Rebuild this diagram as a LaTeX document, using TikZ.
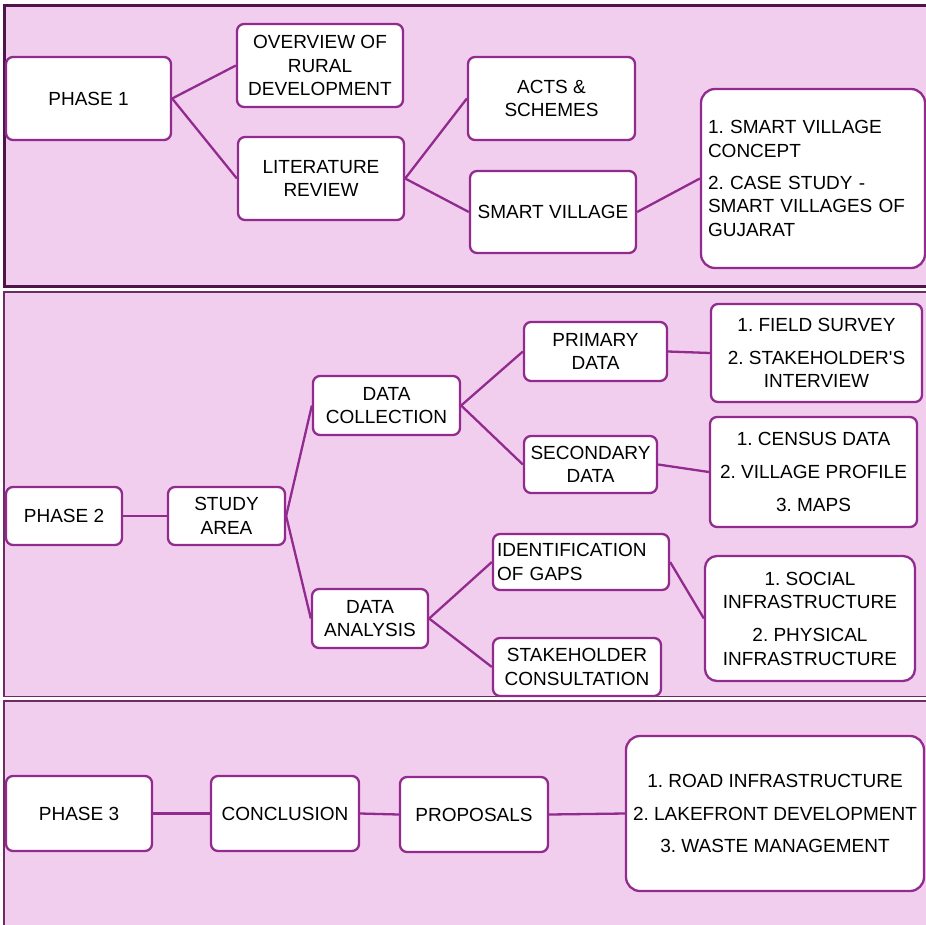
\documentclass[tikz,border=0pt]{standalone}
\usepackage{fontspec}
\setmainfont{Liberation Sans}
\frenchspacing
\definecolor{bgpink}{HTML}{F2CEEE}
\definecolor{nodec}{HTML}{922B8E}
\definecolor{paneldark}{HTML}{4F1548}
\definecolor{panelmid}{HTML}{6B2D63}
\tikzset{
  panelone/.style={draw=paneldark, line width=3pt, fill=bgpink},
  paneltwo/.style={draw=panelmid, line width=1.6pt, fill=bgpink},
  box/.style={draw=nodec, line width=2.3pt, fill=white, rounded corners=7pt,
    align=center, inner sep=0pt, font=\fontsize{19}{23.5}\selectfont\frenchspacing},
  bigbox/.style={box, rounded corners=14pt},
  link/.style={draw=nodec, line width=2.3pt}
}
\begin{document}
\begin{tikzpicture}[x=1pt,y=-1pt]
\useasboundingbox (0,0) rectangle (926,924);
\clip (0,0) rectangle (926,924);
% panels
\path[panelone] (4.5,5.5) rectangle (945,286);
\path[paneltwo] (4,292) rectangle (945,696.5);
\path[paneltwo] (4,701) rectangle (945,945);

% ---------- Phase 1 ----------
\node[box, minimum width=165, minimum height=83] (p1) at (88.5,98.5) {PHASE 1};
\node[box, minimum width=166, minimum height=83] (ov) at (320,65.5) {OVERVIEW OF\\RURAL\\DEVELOPMENT};
\node[box, minimum width=166, minimum height=83] (lit) at (321,178.5) {LITERATURE\\REVIEW};
\node[box, minimum width=167, minimum height=83] (acts) at (551.5,98.5) {ACTS \&\\SCHEMES};
\node[box, minimum width=166, minimum height=82] (sv) at (553,212) {SMART VILLAGE};
\node[bigbox, minimum width=224, minimum height=179, text width=210, align=left] (svd) at (813,178.5)
  {1. SMART VILLAGE\\CONCEPT\\[8.5pt]2. CASE STUDY -\\SMART VILLAGES OF\\GUJARAT};

\draw[link] (p1.east) -- (ov.west);
\draw[link] (p1.east) -- (lit.west);
\draw[link] (lit.east) -- (acts.west);
\draw[link] (lit.east) -- (sv.west);
\draw[link] (sv.east) -- (svd.west);

% ---------- Phase 2 ----------
\node[box, minimum width=116, minimum height=58] (p2) at (64,516) {PHASE 2};
\node[box, minimum width=117, minimum height=58] (sa) at (226.5,516) {STUDY\\AREA};
\node[box, minimum width=147, minimum height=59] (dc) at (386.5,405.5) {DATA\\COLLECTION};
\node[box, minimum width=116, minimum height=59] (da) at (370,618.5) {DATA\\ANALYSIS};
\node[box, minimum width=143, minimum height=59] (pd) at (595.5,351.5) {PRIMARY\\DATA};
\node[box, minimum width=133, minimum height=57] (sd) at (590.5,464.5) {SECONDARY\\DATA};
\node[box, minimum width=211, minimum height=98] (fs) at (816.5,353)
  {1. FIELD SURVEY\\[9.5pt]2. STAKEHOLDER\textquotesingle S\\INTERVIEW};
\node[box, minimum width=207, minimum height=110] (cd) at (813.5,472)
  {1. CENSUS DATA\\[9.5pt]2. VILLAGE PROFILE\\[9.5pt]3. MAPS};
\node[box, minimum width=176, minimum height=56, text width=168, align=left] (ig) at (581,562)
  {IDENTIFICATION\\OF GAPS};
\node[box, minimum width=168, minimum height=58] (sc) at (577,667) {STAKEHOLDER\\CONSULTATION};
\node[bigbox, rounded corners=12pt, minimum width=210, minimum height=125] (si) at (810,618.5)
  {1. SOCIAL\\INFRASTRUCTURE\\[9.5pt]2. PHYSICAL\\INFRASTRUCTURE};

\draw[link] (p2.east) -- (sa.west);
\draw[link] (sa.east) -- (dc.west);
\draw[link] (sa.east) -- (da.west);
\draw[link] (dc.east) -- (pd.west);
\draw[link] (dc.east) -- (sd.west);
\draw[link] (pd.east) -- (fs.west);
\draw[link] (sd.east) -- (cd.west);
\draw[link] (da.east) -- (ig.west);
\draw[link] (da.east) -- (sc.west);
\draw[link] (ig.east) -- (si.west);

% ---------- Phase 3 ----------
\node[box, minimum width=146, minimum height=75] (p3) at (79,813.5) {PHASE 3};
\node[box, minimum width=148, minimum height=75] (con) at (285,813.5) {CONCLUSION};
\node[box, minimum width=148, minimum height=75] (pro) at (474,814.5) {PROPOSALS};
\node[bigbox, minimum width=298, minimum height=155] (rd) at (775,813.5)
  {1. ROAD INFRASTRUCTURE\\[9pt]2. LAKEFRONT DEVELOPMENT\\[9pt]3. WASTE MANAGEMENT};

\draw[link] (p3.east) -- (con.west);
\draw[link] (con.east) -- (pro.west);
\draw[link] (pro.east) -- (rd.west);
\end{tikzpicture}
\end{document}
